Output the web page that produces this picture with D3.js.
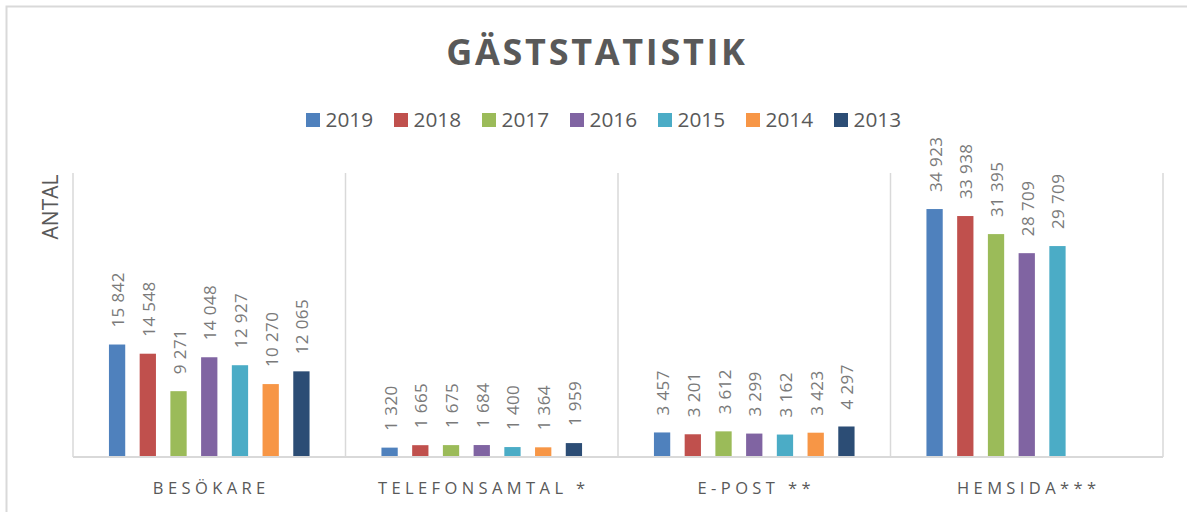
<!DOCTYPE html>
<html>
<head>
<meta charset="utf-8">
<script src="https://cdn.jsdelivr.net/npm/d3@7"></script>
<style>
  body { margin: 0; background: #fff; }
  svg { display: block; font-family: "Open Sans", sans-serif; }
</style>
</head>
<body>
<div id="chart"></div>
<script>
const categories = ["BESÖKARE", "TELEFONSAMTAL *", "E-POST **", "HEMSIDA***"];
const years = ["2019", "2018", "2017", "2016", "2015", "2014", "2013"];
const colors = ["#4F81BD", "#C0504D", "#9BBB59", "#8064A2", "#4BACC6", "#F79646", "#2C4D75"];

// one array per year, in category order (null = no bar)
const v2019 = [15842, 1320, 3457, 34923];
const v2018 = [14548, 1665, 3201, 33938];
const v2017 = [9271, 1675, 3612, 31395];
const v2016 = [14048, 1684, 3299, 28709];
const v2015 = [12927, 1400, 3162, 29709];
const v2014 = [10270, 1364, 3423, null];
const v2013 = [12065, 1959, 4297, null];
const seriesValues = [v2019, v2018, v2017, v2016, v2015, v2014, v2013];

const title = "GÄSTSTATISTIK";
const yTitle = "ANTAL";
const yMax = 40000;

const width = 1187;
const height = 512;
const plot = { left: 73, right: 1163, top: 173, bottom: 457 };

const svg = d3.select("#chart")
  .append("svg")
  .attr("width", width)
  .attr("height", height);

// chart border (only top/left visible in the frame)
svg.append("rect")
  .attr("x", 6.5).attr("y", 6.5)
  .attr("width", 1220).attr("height", 560)
  .attr("fill", "none")
  .attr("stroke", "#d9d9d9")
  .attr("stroke-width", 2);

const x0 = d3.scaleBand()
  .domain(categories)
  .range([plot.left, plot.right])
  .padding(0);

const x1 = d3.scaleBand()
  .domain(years)
  .range([0, x0.bandwidth()])
  .paddingInner(0.47)
  .paddingOuter(1.17);

const y = d3.scaleLinear()
  .domain([0, yMax])
  .range([plot.bottom, plot.top]);

const fmt = v => d3.format(",")(v).replace(/,/g, " ");

// vertical category gridlines
svg.append("g")
  .selectAll("line")
  .data(categories.concat([null]))
  .enter()
  .append("line")
  .attr("x1", (d, i) => i < categories.length ? x0(d) : x0.range()[1])
  .attr("x2", (d, i) => i < categories.length ? x0(d) : x0.range()[1])
  .attr("y1", plot.top)
  .attr("y2", plot.bottom)
  .attr("stroke", "#d9d9d9")
  .attr("stroke-width", 1.5);

// title
svg.append("text")
  .attr("x", 597)
  .attr("y", 64.5)
  .attr("text-anchor", "middle")
  .attr("fill", "#595959")
  .attr("font-size", 36)
  .attr("font-weight", "bold")
  .attr("letter-spacing", 2.7)
  .text(title);

// legend
const legendStep = 88;
const legendStart = 306;
const legend = svg.append("g")
  .selectAll("g")
  .data(years)
  .enter()
  .append("g")
  .attr("transform", (d, i) => `translate(${legendStart + i * legendStep},113)`);

legend.append("rect")
  .attr("width", 14)
  .attr("height", 14)
  .attr("fill", (d, i) => colors[i]);

legend.append("text")
  .attr("x", 19.5)
  .attr("y", 14.3)
  .attr("fill", "#595959")
  .attr("font-size", 20.8)
  .text(d => d);

// y-axis title
svg.append("text")
  .attr("transform", "translate(58.3,207) rotate(-90)")
  .attr("text-anchor", "middle")
  .attr("fill", "#595959")
  .attr("font-size", 21)
  .text(yTitle);

// bars
const groups = svg.append("g")
  .selectAll("g")
  .data(years)
  .enter()
  .append("g")
  .attr("fill", (d, i) => colors[i]);

groups.each(function(year, si) {
  const pts = categories
    .map((c, ci) => ({ c, v: seriesValues[si][ci] }))
    .filter(p => p.v != null);

  const g = d3.select(this);

  g.selectAll("rect")
    .data(pts)
    .enter()
    .append("rect")
    .attr("x", p => x0(p.c) + x1(year))
    .attr("y", p => y(p.v))
    .attr("width", x1.bandwidth())
    .attr("height", p => y(0) - y(p.v));

  g.selectAll("text")
    .data(pts)
    .enter()
    .append("text")
    .attr("transform", p =>
      `translate(${x0(p.c) + x1(year) + x1.bandwidth() / 2 + 7},${y(p.v) - 17}) rotate(-90)`)
    .attr("fill", "#7a7a7a")
    .attr("font-size", 17)
    .attr("letter-spacing", 0.4)
    .text(p => fmt(p.v));
});

// baseline
svg.append("line")
  .attr("x1", plot.left)
  .attr("x2", plot.right)
  .attr("y1", y(0))
  .attr("y2", y(0))
  .attr("stroke", "#d9d9d9")
  .attr("stroke-width", 2);

// category labels
svg.append("g")
  .selectAll("text")
  .data(categories)
  .enter()
  .append("text")
  .attr("x", d => x0(d) + x0.bandwidth() / 2 + 2)
  .attr("y", 494)
  .attr("text-anchor", "middle")
  .attr("fill", "#595959")
  .attr("font-size", 16.5)
  .attr("letter-spacing", 4.4)
  .text(d => d);
</script>
</body>
</html>
